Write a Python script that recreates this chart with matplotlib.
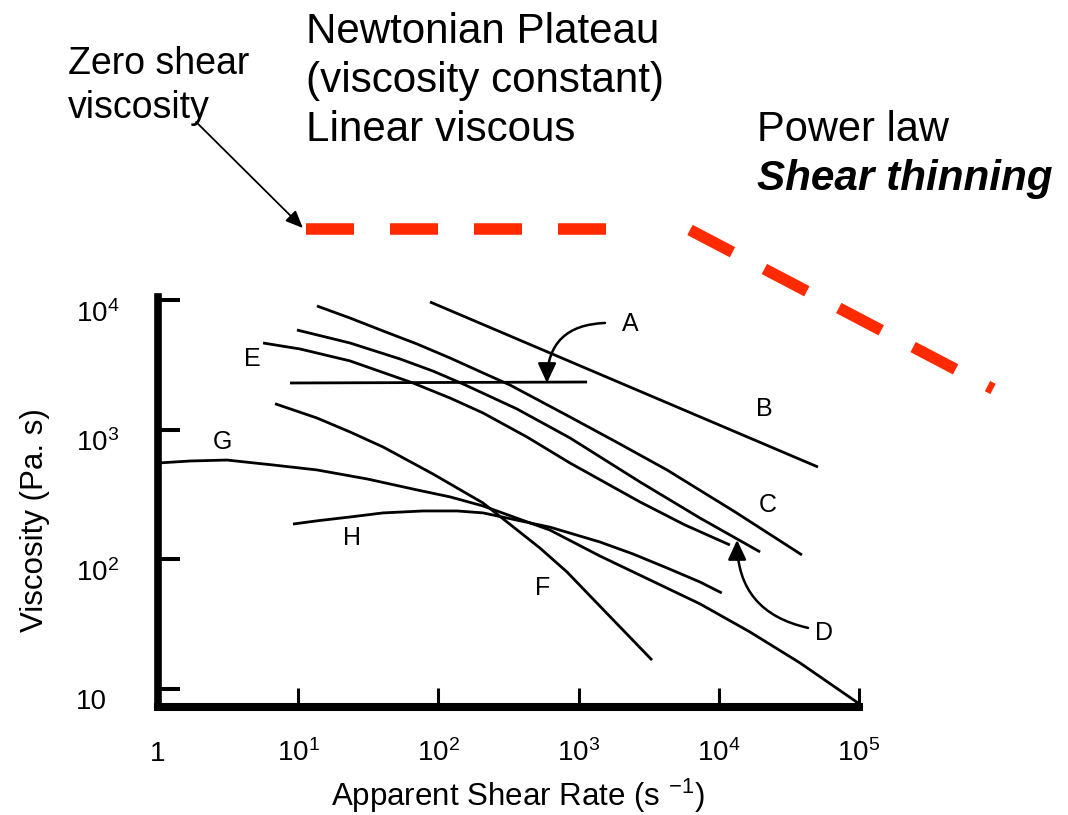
import matplotlib
matplotlib.use("Agg")
import matplotlib.pyplot as plt

plt.rcParams['font.family'] = ['Liberation Sans', 'DejaVu Sans']
plt.rcParams['mathtext.fontset'] = 'custom'
plt.rcParams['mathtext.rm'] = 'Liberation Sans'
plt.rcParams['mathtext.default'] = 'regular'
plt.rcParams['lines.scale_dashes'] = False

# ---- flow curves: apparent shear rate (1/s) vs viscosity (Pa s) ----
a_rate = [8.74, 1150]
a_visc = [2290, 2330]

b_rate = [87.1, 51000]
b_visc = [9660, 515]

c_rate = [13.6, 23.4, 40.3, 70.3, 121, 208, 324, 868, 1972, 4270, 13060, 39200]
c_visc = [8995, 7260, 5770, 4580, 3570, 2740, 2210, 1253, 775, 489, 232, 108]

d_rate = [9.80, 23.4, 53.2, 91.5, 150, 364, 868, 2740, 7350, 19700]
d_visc = [5870, 4660, 3510, 2830, 2250, 1443, 863, 395, 208, 114]

e_rate = [5.61, 10.3, 23.4, 65.9, 121, 208, 429, 868, 2740, 5740, 12000]
e_visc = [4660, 4190, 3390, 2290, 1754, 1345, 877, 553, 277, 184, 129]

f_rate = [6.83, 13.6, 23.4, 40.3, 91.5, 208, 531, 827, 1420, 3340]
f_visc = [1585, 1230, 960, 735, 455, 272, 122, 79.8, 43.5, 16.7]

g_rate = [1.0, 1.69, 3.10, 6.61, 13.6, 30.9, 70.3, 121, 208, 625, 1420, 3230,
          7350, 16700, 37900, 98400]
g_visc = [553, 573, 583, 534, 489, 417, 343, 303, 258, 168, 106, 69.3,
          45.3, 27.5, 15.9, 7.8]

h_rate = [9.18, 13.6, 23.4, 40.3, 77.6, 136, 208, 625, 1420, 2440, 4270, 7350, 10500]
h_visc = [187, 198, 212, 228, 236, 236, 228, 177, 136, 110, 85.8, 66.8, 55.0]

curves = [(a_rate, a_visc), (b_rate, b_visc), (c_rate, c_visc), (d_rate, d_visc),
          (e_rate, e_visc), (f_rate, f_visc), (g_rate, g_visc), (h_rate, h_visc)]

# curve letters and where they sit
letters = ['A', 'B', 'C', 'D', 'E', 'F', 'G', 'H']
letter_rate = [2330, 21000, 22400, 56300, 4.68, 557, 2.86, 24.2]
letter_visc = [6530, 1443, 262, 27.0, 3510, 60.1, 803, 146]

# schematic Newtonian plateau + power-law guide (drawn above the plot area)
plateau_rate = [11.4, 1567]
plateau_visc = [35300, 35300]
powerlaw_rate = [6230, 903000]
powerlaw_visc = [34700, 2060]

x_ticks = [1, 10, 100, 1000, 1e4, 1e5]
x_tick_labels = ['1', '$10^{1}$', '$10^{2}$', '$10^{3}$', '$10^{4}$', '$10^{5}$']
y_ticks = [10, 100, 1000, 1e4]
y_tick_labels = ['10', '$10^{2}$', '$10^{3}$', '$10^{4}$']

W, H = 1068, 815
fig = plt.figure(figsize=(W / 100, H / 100), dpi=100)
ax = fig.add_axes([158 / W, (H - 707) / H, 701 / W, 410 / H])
ax.set_xscale('log')
ax.set_yscale('log')
ax.set_xlim(1, 1e5)
ax.set_ylim(10 ** 0.861, 10 ** 4.023)

for rate, visc in curves:
    ax.plot(rate, visc, color='black', lw=2.0, solid_capstyle='butt',
            solid_joinstyle='round')

for txt, xr, yv in zip(letters, letter_rate, letter_visc):
    ax.text(xr, yv, txt, fontsize=18, ha='center', va='center')

# arrows pointing at curve A and curve D
ax.annotate('', xy=(595, 2290), xytext=(1543, 6650),
            arrowprops=dict(arrowstyle='-|>,head_length=0.6,head_width=0.28',
                            connectionstyle='arc3,rad=0.48', color='black',
                            lw=1.8, shrinkA=0, shrinkB=0, mutation_scale=20))
ax.annotate('', xy=(13500, 141), xytext=(43300, 29.6),
            arrowprops=dict(arrowstyle='-|>,head_length=0.6,head_width=0.28',
                            connectionstyle='arc3,rad=-0.40', color='black',
                            lw=1.8, shrinkA=0, shrinkB=0, mutation_scale=20))

# red guide lines
red = '#ff2a00'
dash = (48 * 0.72, 36 * 0.72)
ax.plot(plateau_rate, plateau_visc, color=red, lw=8.3, dashes=dash,
        dash_capstyle='butt', clip_on=False)
ax.plot(powerlaw_rate, powerlaw_visc, color=red, lw=8.3, dashes=dash,
        dash_capstyle='butt', clip_on=False)

# zero shear viscosity pointer
ax.annotate('', xy=(10.8, 35900), xytext=(1.87, 236000), annotation_clip=False,
            arrowprops=dict(arrowstyle='-|>,head_length=0.7,head_width=0.3',
                            color='black', lw=1.3, shrinkA=0, shrinkB=0,
                            mutation_scale=15))

# axes styling
for side in ['top', 'right']:
    ax.spines[side].set_visible(False)
ax.spines['left'].set_linewidth(5.5)
ax.spines['bottom'].set_linewidth(5.8)
for side in ['left', 'bottom']:
    ax.spines[side].set_capstyle('projecting')

ax.minorticks_off()
ax.set_xticks(x_ticks, labels=x_tick_labels)
ax.set_yticks(y_ticks, labels=y_tick_labels)
ax.tick_params(axis='x', direction='in', length=14, width=2.2, labelsize=20, pad=39)
ax.tick_params(axis='y', direction='in', length=16, width=2.9, labelsize=20, pad=59)
for lbl in ax.get_xticklabels():
    lbl.set_verticalalignment('baseline')
for lbl in ax.get_yticklabels():
    lbl.set_horizontalalignment('left')
    lbl.set_verticalalignment('top')

ax.set_xlabel('Apparent Shear Rate (s $^{-1}$)', fontsize=22.5)
ax.xaxis.set_label_coords((518 - 158) / 701, (707 - 796) / 410)
ax.xaxis.label.set_verticalalignment('center')
ax.set_ylabel('Viscosity (Pa. s)', fontsize=22.5)
ax.yaxis.set_label_coords((35 - 158) / 701, (707 - 520) / 410)
ax.yaxis.label.set_verticalalignment('center')

# headline texts
def ftext(px, py, s, **kw):
    fig.text(px / W, 1 - py / H, s, va='baseline', ha='left', **kw)

ftext(68, 74, 'Zero shear', fontsize=27)
ftext(68, 118, 'viscosity', fontsize=27)
ftext(306, 43, 'Newtonian Plateau', fontsize=30.3)
ftext(306, 92, '(viscosity constant)', fontsize=30.3)
ftext(306, 141, 'Linear viscous', fontsize=30.3)
ftext(757, 141, 'Power law', fontsize=30)
ftext(757, 190, 'Shear thinning', fontsize=30.4, fontweight='bold', fontstyle='italic')

fig.savefig('out.png', dpi=100)
